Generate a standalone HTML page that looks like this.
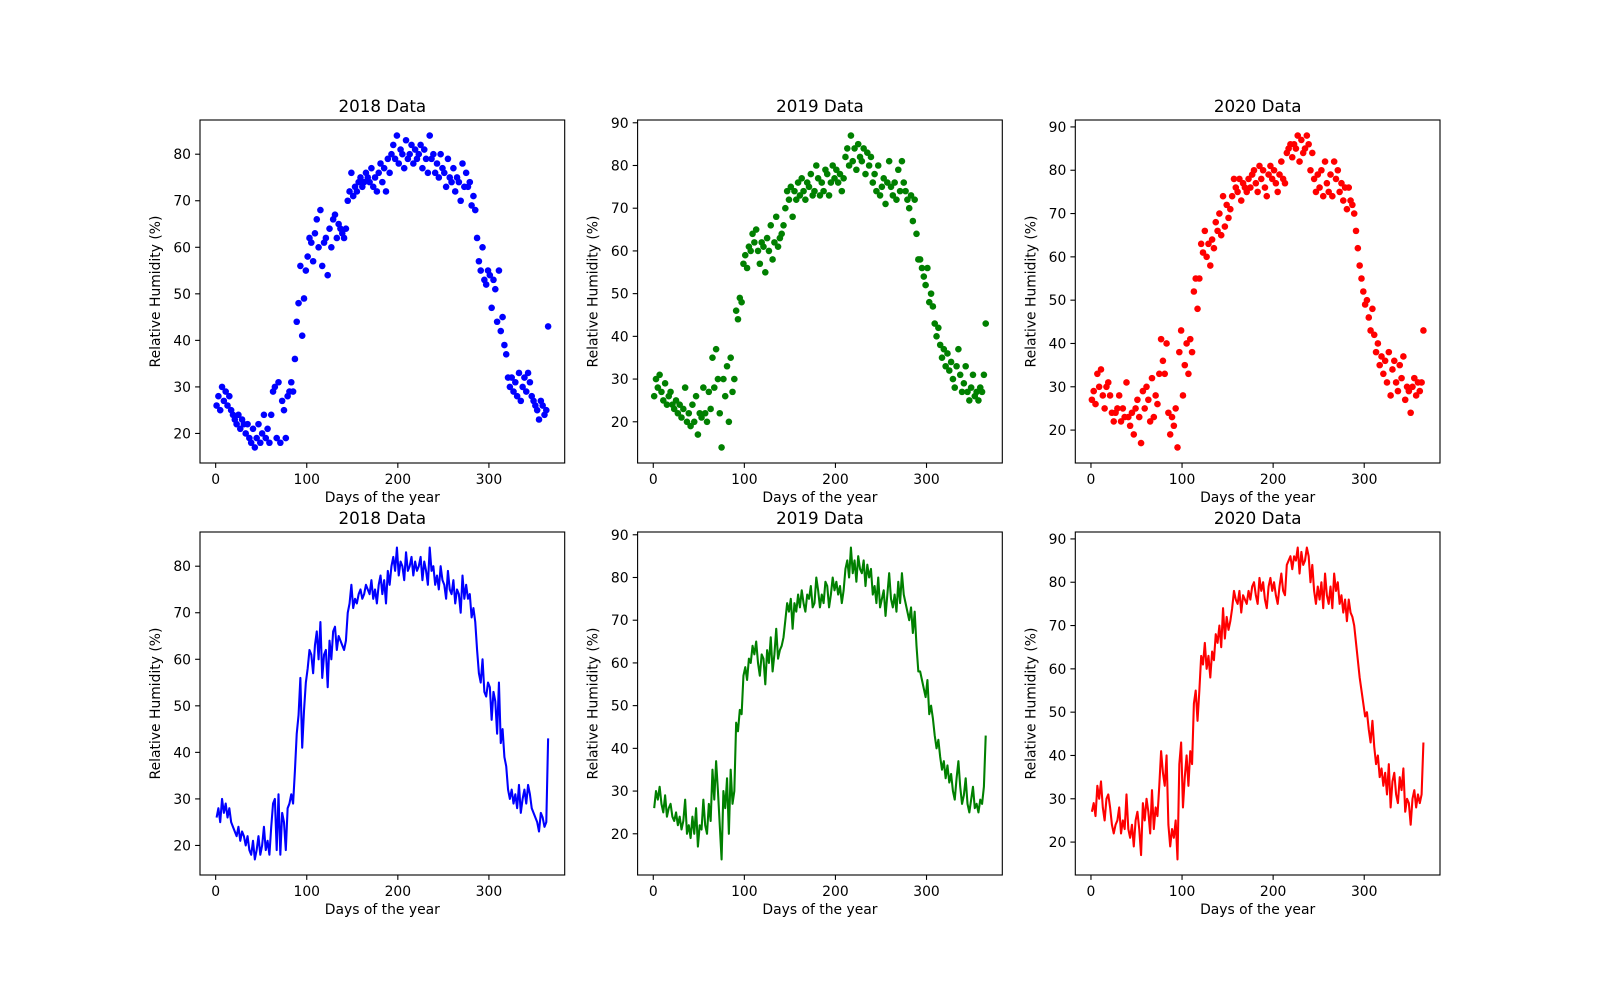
<!DOCTYPE html>
<html><head><meta charset="utf-8"><style>
html,body{margin:0;padding:0;background:#fff;}
svg{display:block;font-family:"DejaVu Sans","Liberation Sans",sans-serif;}
</style></head><body>
<svg id="fig" width="1600" height="1000" viewBox="0 0 1600 1000" xmlns="http://www.w3.org/2000/svg"></svg>
<script>
const days = [];
for (let d = 1; d <= 365; d += 2) days.push(d);
const humidity2018 = [26,28,25,30,27,29,26,28,25,24, 23,22,24,21,23,22,20,22,19,18, 21,17,19,22,18,20,24,19,21,18, 24,29,30,19,31,18,27,25,19,28, 29,31,29,36,44,48,56,41,49,55, 58,62,61,57,63,66,60,68,56,61, 62,54,64,60,66,67,62,65,64,63, 62,64,70,72,76,71,73,72,74,75, 73,74,76,75,74,77,73,75,72,76, 78,74,77,72,79,76,80,82,79,84, 78,81,80,77,83,79,80,82,78,81, 79,80,82,77,81,79,76,84,79,80, 76,78,75,80,77,76,73,79,75,74, 77,72,75,74,70,78,73,76,73,74, 69,71,68,62,57,55,60,53,52,55, 54,47,53,51,44,55,42,45,39,37, 32,30,32,29,31,28,33,27,30,32, 29,33,31,28,27,26,25,23,27,26, 24,25,43];
const humidity2019 = [26,30,28,31,27,25,29,24,26,27, 24,23,25,22,24,21,23,28,20,22, 19,24,20,26,17,22,21,28,22,20, 27,23,35,28,37,30,22,14,30,26, 33,20,35,27,30,46,44,49,48,57, 59,56,61,60,64,62,65,60,57,62, 61,55,63,60,66,58,62,68,61,63, 64,66,70,74,72,75,68,74,72,76, 73,77,74,72,76,75,78,73,74,80, 77,73,76,74,79,78,73,76,80,77, 79,76,78,74,77,82,84,80,87,81, 84,79,85,82,81,84,78,83,80,82, 76,78,74,80,73,75,77,71,76,81, 75,73,76,72,79,74,81,76,74,72, 70,73,67,72,64,58,58,56,54,52, 56,48,50,47,43,40,42,38,35,37, 33,36,32,34,30,28,33,37,31,27, 29,33,27,25,28,31,26,27,25,28, 27,31,43];
const humidity2020 = [27,29,26,33,30,34,28,25,30,31, 28,24,22,24,25,28,22,25,23,31, 23,21,24,19,25,27,23,17,29,25, 30,27,22,32,23,28,26,33,41,36, 33,40,24,19,23,21,25,16,38,43, 28,35,40,33,41,38,52,55,48,55, 63,61,66,60,63,58,64,62,68,66, 70,65,74,67,72,69,71,74,78,76, 75,78,73,77,76,75,78,76,79,80, 77,75,81,78,80,76,74,79,81,78, 80,77,75,79,82,78,77,84,85,86, 83,86,85,88,82,87,84,85,88,86, 80,84,78,75,79,76,80,74,82,77, 75,79,74,82,78,80,75,77,73,76, 71,76,73,72,70,66,62,58,55,52, 49,50,46,43,48,42,38,40,35,37, 33,36,31,38,28,34,36,31,29,35, 32,37,27,30,29,24,30,32,28,31, 29,31,43];
const yearTitles = ["2018 Data","2019 Data","2020 Data"];
const xTicks = [0,100,200,300];

const NS = "http://www.w3.org/2000/svg";
const svg = document.getElementById("fig");
function mk(tag, attrs, parent) {
  const e = document.createElementNS(NS, tag);
  for (const k in attrs) e.setAttribute(k, attrs[k]);
  (parent || svg).appendChild(e);
  return e;
}
const series = [humidity2018, humidity2019, humidity2020];
const colors = ["#0000ff", "#008000", "#ff0000"];
const yrs = ["2018","2019","2020"];
const colLeft = [200, 637.6, 1075.3];
const W = 364.7, H = 343;
const rowTop = [120, 532];

for (let r = 0; r < 2; r++) {
  for (let c = 0; c < 3; c++) {
    const vals = series[c];
    const L = colLeft[c], T = rowTop[r];
    const g = mk("g", {});
    
    
    const xmin0 = Math.min(...days), xmax0 = Math.max(...days);
    const xm = (xmax0 - xmin0) * 0.05;
    const x0 = xmin0 - xm, x1 = xmax0 + xm;
    const ymin0 = Math.min(...vals), ymax0 = Math.max(...vals);
    const ym = (ymax0 - ymin0) * 0.05;
    const y0 = ymin0 - ym, y1 = ymax0 + ym;
    const sx = v => L + (v - x0) / (x1 - x0) * W;
    const sy = v => T + H - (v - y0) / (y1 - y0) * H;

    const data = mk("g", {}, g);
    
    
    if (r === 0) {
      for (let i = 0; i < vals.length; i++) {
        const p = mk("circle", {cx: sx(days[i]).toFixed(2), cy: sy(vals[i]).toFixed(2), r: 3.3, fill: colors[c]}, data);
        
        
      }
    } else {
      let d = "";
      for (let i = 0; i < vals.length; i++) d += (i ? "L" : "M") + sx(days[i]).toFixed(2) + "," + sy(vals[i]).toFixed(2);
      const p = mk("path", {d: d, fill: "none", stroke: colors[c], "stroke-width": 2.08, "stroke-linejoin": "round"}, data);
      
      
    }
    const frame = mk("rect", {x: L, y: T, width: W, height: H, fill: "none", stroke: "#000", "stroke-width": 1.1}, g);
    
    

    for (const t of xTicks) {
      if (t < x0 || t > x1) continue;
      const x = sx(t);
      mk("line", {x1: x, x2: x, y1: T + H, y2: T + H + 4.9, stroke: "#000", "stroke-width": 1.1}, g);
      const tx = mk("text", {x: x, y: T + H + 21, "font-size": 13.9, "text-anchor": "middle", fill: "#000"}, g);
      tx.textContent = t;
      
      
    }
    for (let t = Math.ceil(y0 / 10) * 10; t <= y1; t += 10) {
      const y = sy(t);
      mk("line", {x1: L - 4.9, x2: L, y1: y, y2: y, stroke: "#000", "stroke-width": 1.1}, g);
      const ty = mk("text", {x: L - 9, y: y + 5, "font-size": 13.9, "text-anchor": "end", fill: "#000"}, g);
      ty.textContent = t;
      
      
    }
    const xl = mk("text", {x: L + W / 2, y: T + H + 39, "font-size": 13.9, "text-anchor": "middle", fill: "#000"}, g);
    xl.textContent = "Days of the year";
    
    
    const yl = mk("text", {x: 0, y: 0, "font-size": 13.9, "text-anchor": "middle", fill: "#000", transform: `translate(${L - 40},${T + H / 2}) rotate(-90)`}, g);
    yl.textContent = "Relative Humidity (%)";
    
    
    const ti = mk("text", {x: L + W / 2, y: T - 8, "font-size": 16.7, "text-anchor": "middle", fill: "#000"}, g);
    ti.textContent = yearTitles[c];
    
    
  }
}
</script>
</body></html>
